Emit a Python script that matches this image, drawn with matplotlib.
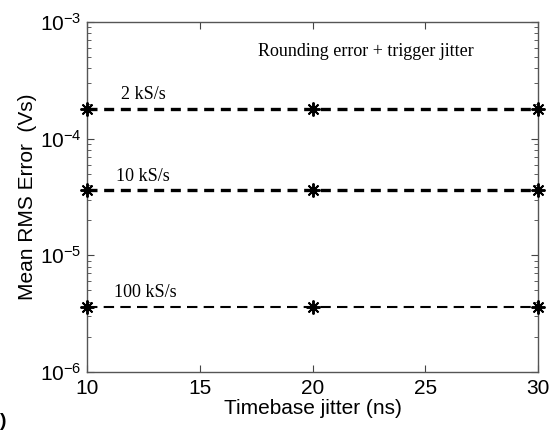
import numpy as np
import matplotlib
matplotlib.use("Agg")
import matplotlib.pyplot as plt
from matplotlib.ticker import FixedLocator, LogLocator, NullFormatter, FuncFormatter

plt.rcParams['font.family'] = 'Liberation Sans'
plt.rcParams['mathtext.fontset'] = 'custom'
plt.rcParams['mathtext.rm'] = 'Liberation Sans'
plt.rcParams['mathtext.it'] = 'Liberation Sans'

# timebase jitter (ns) and mean RMS error (Vs) per sample rate
jitter_ns = [10, 20, 30]
err_2k = [1.8e-4, 1.8e-4, 1.8e-4]
err_10k = [3.6e-5, 3.6e-5, 3.6e-5]
err_100k = [3.6e-6, 3.6e-6, 3.6e-6]
rate_labels = ["2 kS/s", "10 kS/s", "100 kS/s"]

fig = plt.figure(figsize=(5.6, 4.3), dpi=100)
ax = fig.add_axes([0.1554, 0.1349, 0.8053, 0.8139])

# asterisk marker like MATLAB's '*'
star = (8, 2, 0)
ax.plot(jitter_ns, err_2k, 'k--', lw=2.4, dashes=(3, 2), marker=star,
        markersize=10, markeredgewidth=1.4, clip_on=False, zorder=3)
ax.plot(jitter_ns, err_10k, 'k--', lw=2.4, dashes=(3, 2), marker=star,
        markersize=10, markeredgewidth=1.4, clip_on=False, zorder=3)
ax.plot(jitter_ns, err_100k, 'k--', lw=1.5, dashes=(5, 3), marker=star,
        markersize=10, markeredgewidth=1.4, clip_on=False, zorder=3)

ax.set_yscale('log')
ax.set_xlim(10, 30)
ax.set_ylim(1e-6, 1e-3)
ax.xaxis.set_major_locator(FixedLocator([10, 15, 20, 25, 30]))
ax.yaxis.set_major_locator(FixedLocator([1e-6, 1e-5, 1e-4, 1e-3]))
ax.yaxis.set_major_formatter(FuncFormatter(lambda v, p: r'$10^{%d}$' % round(np.log10(v))))
ax.yaxis.set_minor_locator(LogLocator(base=10, subs=np.arange(2, 10)))
ax.yaxis.set_minor_formatter(NullFormatter())

ax.tick_params(which='both', direction='in', top=True, right=True,
               labelsize=15, color='#444444')
ax.tick_params(which='major', length=5)
ax.tick_params(which='minor', length=3)
ax.tick_params(axis='x', pad=5)
ax.tick_params(axis='y', pad=4)
for s in ax.spines.values():
    s.set_color('#555555')
    s.set_linewidth(1.0)

ax.set_xlabel('Timebase jitter (ns)', fontsize=15, labelpad=1)
ax.set_ylabel('Mean RMS Error  (Vs)', fontsize=15, labelpad=2)

serif = 'Liberation Serif'
ax.text(0.38, 0.915, 'Rounding error + trigger jitter', transform=ax.transAxes,
        fontsize=13, family=serif, va='center')
ax.text(11.5, err_2k[0] * 1.12, rate_labels[0], fontsize=13, family=serif, va='bottom')
ax.text(11.3, err_10k[0] * 1.12, rate_labels[1], fontsize=13, family=serif, va='bottom')
ax.text(11.2, err_100k[0] * 1.12, rate_labels[2], fontsize=13, family=serif, va='bottom')

fig.text(0.0, 0.01, ')', fontsize=14, weight='bold')

fig.savefig('out.png', dpi=100)
